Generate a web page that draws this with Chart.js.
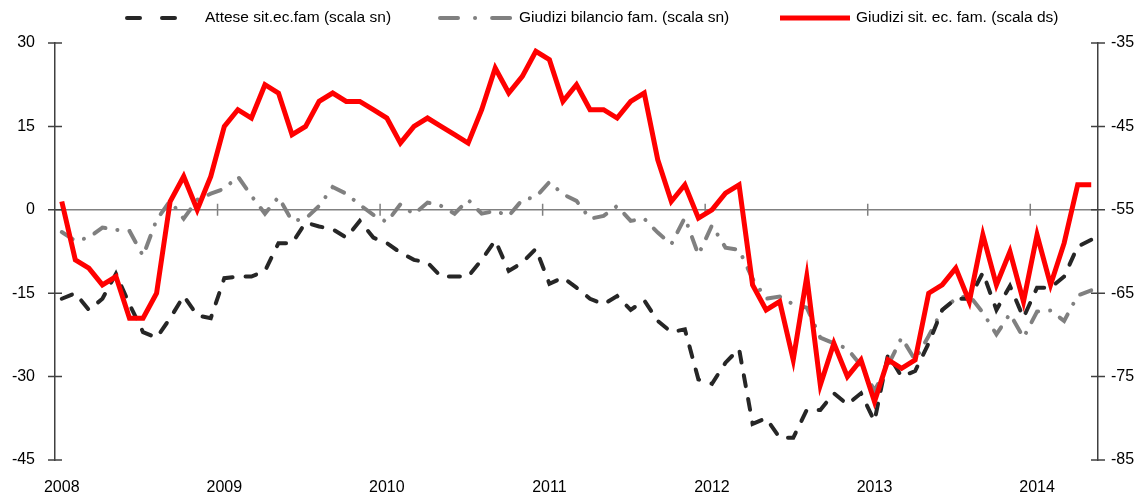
<!DOCTYPE html>
<html>
<head>
<meta charset="utf-8">
<script src="https://cdn.jsdelivr.net/npm/chart.js@4.4.0/dist/chart.umd.min.js"></script>
<style>
  html, body { margin: 0; padding: 0; background: #fff; }
  #wrap { width: 1148px; height: 497px; }
</style>
</head>
<body>
<div id="wrap"><canvas id="chart"></canvas></div>
<script>
// mesi gen 2008 - mag 2014
const months = [
  "2008-01","2008-02","2008-03","2008-04","2008-05","2008-06","2008-07","2008-08","2008-09","2008-10","2008-11","2008-12",
  "2009-01","2009-02","2009-03","2009-04","2009-05","2009-06","2009-07","2009-08","2009-09","2009-10","2009-11","2009-12",
  "2010-01","2010-02","2010-03","2010-04","2010-05","2010-06","2010-07","2010-08","2010-09","2010-10","2010-11","2010-12",
  "2011-01","2011-02","2011-03","2011-04","2011-05","2011-06","2011-07","2011-08","2011-09","2011-10","2011-11","2011-12",
  "2012-01","2012-02","2012-03","2012-04","2012-05","2012-06","2012-07","2012-08","2012-09","2012-10","2012-11","2012-12",
  "2013-01","2013-02","2013-03","2013-04","2013-05","2013-06","2013-07","2013-08","2013-09","2013-10","2013-11","2013-12",
  "2014-01","2014-02","2014-03","2014-04","2014-05"
];

// Attese sit. ec. famiglia (scala sn)
const attese = [
  -16, -15, -18, -16, -11.5, -17, -22, -23, -19.5, -15.5, -19, -19.5,
  -12.3, -12, -12, -11, -6, -6, -2.3, -3, -3.5, -5, -2, -5,
  -6, -7.7, -9, -9.5, -12, -12, -12, -9, -5.5, -11, -9.5, -7,
  -13.3, -12.2, -14, -16, -17, -15.5, -18, -16.3, -20, -22, -21.5, -30.5,
  -31.3, -27.5, -25, -38.5, -37.5, -41, -41, -36, -36, -33, -35, -33,
  -38, -26, -30, -29, -24, -18, -16, -16, -11.3, -18, -13.7, -19.4,
  -14, -14, -12, -6.6, -5.4
];

// Giudizi bilancio famiglia (scala sn)
const bilancio = [
  -4, -5.6, -5, -3.2, -3.6, -3.8, -8.3, -1.8, 1.6, -1.6, 1.8, 2.9,
  3.8, 6, 2.5, -0.7, 2.3, -2, -1.6, 0.7, 4.1, 2.9, 0.9, -0.9,
  -2.2, 1, -0.8, 1.3, 0.7, -0.7, 1.8, -0.7, -0.2, -1.1, 1.8, 2.3,
  5, 2.8, 1.6, -1.6, -1.1, 0.7, -2, -1.6, -4.1, -6.2, -1.4, -8.1,
  -2.8, -6.8, -7.2, -12.4, -16, -15.6, -17, -17.6, -23, -24, -25, -28,
  -32.5, -28, -23, -27, -22.7, -18, -16, -15.4, -18.5, -22.4, -18.7, -23,
  -18.3, -18.1, -20, -15.4, -14.5
];

// Giudizi sit. ec. famiglia (scala ds)
const giudizi = [
  -54, -61, -62, -64, -63, -68, -68, -65, -54, -51, -55, -51,
  -45, -43, -44, -40, -41, -46, -45, -42, -41, -42, -42, -43,
  -44, -47, -45, -44, -45, -46, -47, -43, -38, -41, -39, -36,
  -37, -42, -40, -43, -43, -44, -42, -41, -49, -54, -52, -56,
  -55, -53, -52, -64, -67, -66, -73, -63, -76, -71, -75, -73,
  -78, -73, -74, -73, -65, -64, -62, -66, -58, -64, -60, -66,
  -58, -64, -59, -52, -52
];

const leftTicks = [-45, -30, -15, 0, 15, 30];
const rightTicks = [-85, -75, -65, -55, -45, -35];

const FONT = "'Liberation Sans', Arial, sans-serif";
const AXIS = "#404040";

// asse zero con tacche annuali + tacche incrociate sugli assi verticali
const axisDeco = {
  id: "axisDeco",
  beforeDatasetsDraw(chart) {
    const { ctx, chartArea, scales } = chart;
    const y0 = scales.y.getPixelForValue(0);
    ctx.save();
    ctx.strokeStyle = "#808080";
    ctx.lineWidth = 1.5;
    ctx.beginPath();
    ctx.moveTo(chartArea.left, y0);
    ctx.lineTo(chartArea.right, y0);
    months.forEach((m, i) => {
      if (i > 0 && m.endsWith("-01")) {
        const x = (scales.x.getPixelForValue(i - 1) + scales.x.getPixelForValue(i)) / 2;
        ctx.moveTo(x, y0 - 6);
        ctx.lineTo(x, y0 + 6);
      }
    });
    ctx.stroke();
    ctx.restore();
  },
  afterDraw(chart) {
    const { ctx, scales } = chart;
    ctx.save();
    ctx.strokeStyle = AXIS;
    ctx.lineWidth = 1.5;
    ctx.beginPath();
    leftTicks.forEach(v => {
      const y = scales.y.getPixelForValue(v);
      ctx.moveTo(scales.y.right - 7, y);
      ctx.lineTo(scales.y.right + 7, y);
    });
    rightTicks.forEach(v => {
      const y = scales.y2.getPixelForValue(v);
      ctx.moveTo(scales.y2.left - 7, y);
      ctx.lineTo(scales.y2.left + 7, y);
    });
    ctx.stroke();
    ctx.restore();
  }
};

// legenda disegnata a mano per avere campioni di lunghezza diversa
const legendItems = [
  { x: 127, w: 53, tx: 205 },
  { x: 440, w: 72, tx: 519 },
  { x: 780, w: 70, tx: 856 }
];
const customLegend = {
  id: "customLegend",
  afterDraw(chart) {
    const { ctx } = chart;
    const y = 18;
    ctx.save();
    chart.data.datasets.forEach((ds, i) => {
      const it = legendItems[i];
      ctx.beginPath();
      ctx.strokeStyle = ds.borderColor;
      ctx.lineWidth = ds.borderWidth;
      ctx.lineCap = ds.borderCapStyle || "butt";
      ctx.setLineDash(ds.legendDash || []);
      ctx.moveTo(it.x, y);
      ctx.lineTo(it.x + it.w, y);
      ctx.stroke();
      ctx.setLineDash([]);
      ctx.fillStyle = "#000";
      ctx.font = "15.5px " + FONT;
      ctx.textBaseline = "middle";
      ctx.fillText(ds.label, it.tx, y);
    });
    ctx.restore();
  }
};

new Chart(document.getElementById("chart"), {
  type: "line",
  data: {
    labels: months,
    datasets: [
      {
        label: "Attese sit.ec.fam (scala sn)",
        data: attese,
        yAxisID: "y",
        borderColor: "#262626",
        borderWidth: 4,
        borderDash: [11, 13],
        legendDash: [13, 22],
        borderCapStyle: "round",
        pointRadius: 0,
        tension: 0,
        order: 1
      },
      {
        label: "Giudizi bilancio fam. (scala sn)",
        data: bilancio,
        yAxisID: "y",
        borderColor: "#808080",
        borderWidth: 4,
        borderDash: [13, 12, 0.1, 12],
        legendDash: [18, 17, 0.1, 17],
        borderCapStyle: "round",
        pointRadius: 0,
        tension: 0,
        order: 2
      },
      {
        label: "Giudizi sit. ec. fam. (scala ds)",
        data: giudizi,
        yAxisID: "y2",
        borderColor: "#ff0000",
        borderWidth: 5,
        borderJoinStyle: "miter",
        pointRadius: 0,
        tension: 0,
        order: 0
      }
    ]
  },
  options: {
    responsive: true,
    maintainAspectRatio: false,
    animation: false,
    layout: { padding: { top: 43, left: 0, right: 0, bottom: 0 } },
    plugins: {
      legend: { display: false },
      tooltip: { enabled: false }
    },
    scales: {
      x: {
        type: "category",
        offset: true,
        grid: { display: false, drawTicks: false },
        border: { display: false },
        ticks: {
          autoSkip: false,
          maxRotation: 0,
          padding: 18,
          color: "#000",
          font: { family: FONT, size: 16 },
          callback: (v, i) => months[i].endsWith("-01") ? months[i].slice(0, 4) : ""
        },
        afterFit: s => { s.height = 37; }
      },
      y: {
        position: "left",
        min: -45,
        max: 30,
        afterBuildTicks: s => { s.ticks = leftTicks.map(v => ({ value: v })); },
        grid: { display: false, drawTicks: false },
        border: { display: true, color: AXIS, width: 1.5 },
        ticks: { padding: 20, color: "#000", font: { family: FONT, size: 16 } },
        afterFit: s => { s.width = 55; }
      },
      y2: {
        position: "right",
        min: -85,
        max: -35,
        afterBuildTicks: s => { s.ticks = rightTicks.map(v => ({ value: v })); },
        grid: { display: false, drawTicks: false },
        border: { display: true, color: AXIS, width: 1.5 },
        ticks: { padding: 13, color: "#000", font: { family: FONT, size: 16 } },
        afterFit: s => { s.width = 50; }
      }
    }
  },
  plugins: [axisDeco, customLegend]
});
</script>
</body>
</html>
